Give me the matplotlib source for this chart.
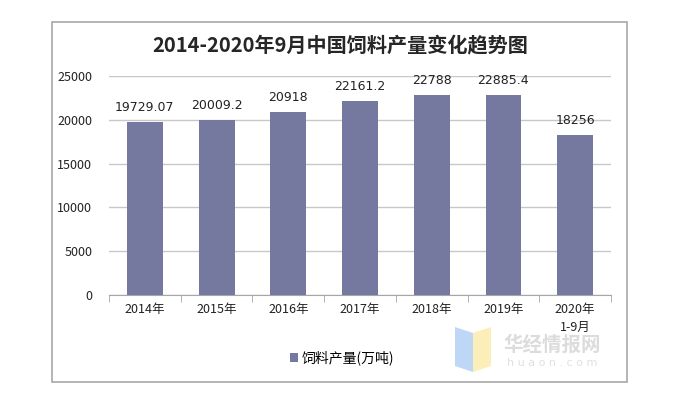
import matplotlib.pyplot as plt
from matplotlib.patches import Rectangle, Polygon
from matplotlib.ticker import FixedLocator, NullFormatter

plt.rcParams['font.family'] = ['Noto Sans CJK SC', 'DejaVu Sans']

# data
years = ['2014年', '2015年', '2016年', '2017年', '2018年', '2019年', '2020年\n1-9月']
output = [19729.07, 20009.2, 20918, 22161.2, 22788, 22885.4, 18256]
value_labels = ['19729.07', '20009.2', '20918', '22161.2', '22788', '22885.4', '18256']

bar_color = '#7579a0'
grid_color = '#c8c8c8'

fig = plt.figure(figsize=(6.82, 3.99), dpi=100)
ax = fig.add_axes([109 / 682, 1 - 295 / 399, 502 / 682, 219 / 399])

x = list(range(len(years)))
bars = ax.bar(x, output, width=0.5, color=bar_color, zorder=3, label='饲料产量(万吨)')

for xi, v, s in zip(x, output, value_labels):
    ax.text(xi, v + 900, s, ha='center', va='bottom', fontsize=9,
            family=['DejaVu Sans'], color='#222222', zorder=4)

ax.set_xlim(-0.5, len(years) - 0.5)
ax.set_ylim(0, 25000)
ax.set_yticks(range(0, 25001, 5000))
ax.yaxis.grid(True, color=grid_color, linewidth=1)
ax.set_axisbelow(True)
for side in ['left', 'right', 'top']:
    ax.spines[side].set_visible(False)
ax.spines['bottom'].set_color('#a6a6a6')
ax.tick_params(axis='y', length=0, labelsize=9, pad=12, labelcolor='#222222')

# category labels centred, ticks at category boundaries
ax.set_xticks(x)
ax.set_xticklabels(years, fontsize=9, color='#222222', linespacing=1.5)
ax.tick_params(axis='x', which='major', length=0, pad=6)
ax.xaxis.set_minor_locator(FixedLocator([i - 0.5 for i in range(len(years) + 1)]))
ax.xaxis.set_minor_formatter(NullFormatter())
ax.tick_params(axis='x', which='minor', length=5, color='#a6a6a6')

fig.text(340 / 682, 1 - 45 / 399, '2014-2020年9月中国饲料产量变化趋势图',
         ha='center', va='center', fontsize=14.5, fontweight='bold', color='#262626')

leg = fig.legend(handles=[bars], loc='center', bbox_to_anchor=(342 / 682, 1 - 358 / 399),
                 frameon=False, fontsize=10, handlelength=0.6, handleheight=0.6,
                 handletextpad=0.3)

# outer frame
fig.patches.append(Rectangle((52 / 682, 1 - 382 / 399), 575 / 682, 360 / 399,
                             transform=fig.transFigure, fill=False,
                             edgecolor='#a8a8a8', linewidth=1.2))

# watermark
fig.patches.append(Polygon([(455 / 682, 1 - 327 / 399), (473 / 682, 1 - 333 / 399),
                            (473 / 682, 1 - 372 / 399), (455 / 682, 1 - 366 / 399)],
                           closed=True, transform=fig.transFigure,
                           facecolor='#aecdf5', edgecolor='none', alpha=0.8))
fig.patches.append(Polygon([(473 / 682, 1 - 333 / 399), (491 / 682, 1 - 327 / 399),
                            (491 / 682, 1 - 366 / 399), (473 / 682, 1 - 372 / 399)],
                           closed=True, transform=fig.transFigure,
                           facecolor='#fbeaa6', edgecolor='none', alpha=0.8))
fig.text(552 / 682, 1 - 345 / 399, '华经情报网', ha='center', va='center',
         fontsize=14, fontweight='bold', color='#dcdcdc')
fig.text(552 / 682, 1 - 363 / 399, 'h u a o n . c o m', ha='center', va='center',
         fontsize=8, color='#e0e0e0', family=['DejaVu Sans'])

fig.savefig('out.png', dpi=100)
